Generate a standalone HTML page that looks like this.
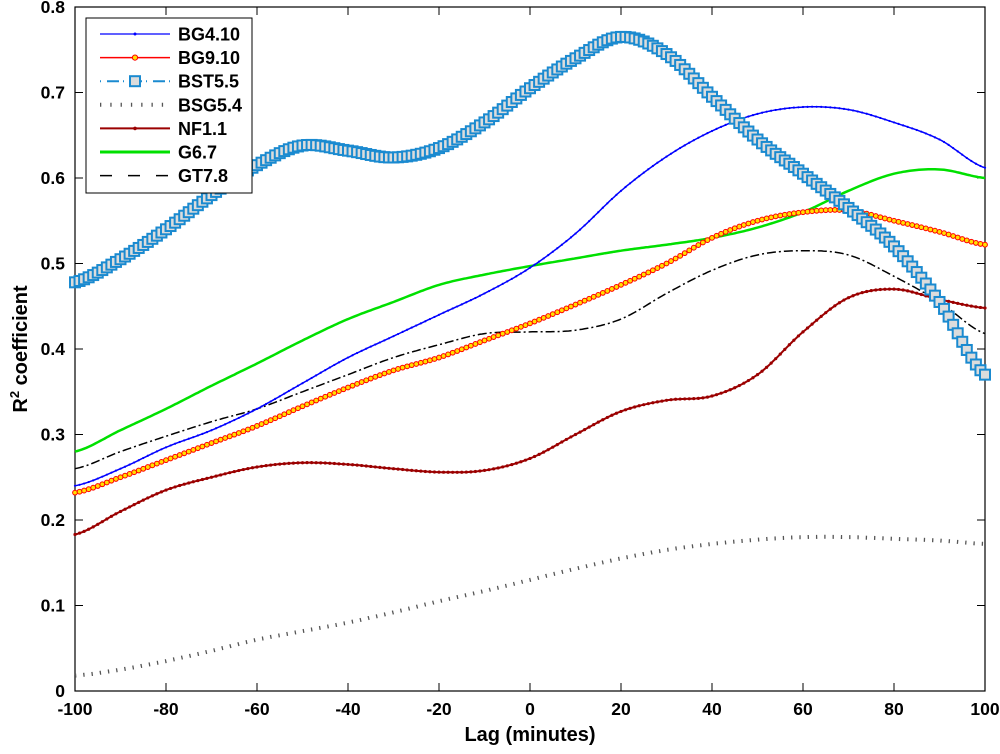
<!DOCTYPE html>
<html><head><meta charset="utf-8"><style>
body{margin:0;background:#fff}
svg text{font-family:"Liberation Sans",sans-serif;font-weight:bold;fill:#000}
</style></head><body>
<svg id="chart" width="1000" height="749" xmlns="http://www.w3.org/2000/svg"></svg>
<script>
const lags=[-100,-90,-80,-70,-60,-50,-40,-30,-20,-10,0,10,20,30,40,50,60,70,80,90,100];
const bg410=[0.24,0.26,0.285,0.305,0.33,0.36,0.39,0.415,0.44,0.465,0.495,0.535,0.585,0.625,0.655,0.675,0.683,0.68,0.665,0.645,0.612];
const bg910=[0.232,0.25,0.27,0.29,0.31,0.333,0.355,0.375,0.39,0.41,0.43,0.452,0.475,0.5,0.53,0.55,0.56,0.562,0.55,0.537,0.522];
const bst55=[0.478,0.505,0.54,0.58,0.615,0.638,0.632,0.624,0.635,0.665,0.705,0.74,0.765,0.745,0.695,0.645,0.605,0.565,0.52,0.455,0.37];
const bsg54=[0.018,0.025,0.035,0.047,0.06,0.07,0.08,0.092,0.105,0.117,0.13,0.143,0.155,0.165,0.172,0.177,0.18,0.18,0.178,0.176,0.172];
const nf11=[0.183,0.21,0.235,0.25,0.262,0.267,0.265,0.26,0.256,0.258,0.272,0.3,0.327,0.34,0.345,0.37,0.42,0.46,0.47,0.458,0.448];
const g67=[0.28,0.305,0.33,0.357,0.383,0.41,0.435,0.455,0.475,0.487,0.497,0.506,0.515,0.522,0.53,0.542,0.56,0.585,0.605,0.61,0.6];
const gt78=[0.26,0.28,0.298,0.315,0.33,0.35,0.37,0.39,0.405,0.418,0.42,0.422,0.435,0.465,0.492,0.51,0.515,0.51,0.485,0.455,0.418];
const xTicks=[-100,-80,-60,-40,-20,0,20,40,60,80,100];
const yTicks=[0,0.1,0.2,0.3,0.4,0.5,0.6,0.7,0.8];

const L=75,R=985,T=7,B=691;
const X=v=>L+(v+100)/200*(R-L);
const Y=v=>B-v/0.8*(B-T);
const NS="http://www.w3.org/2000/svg";
const svg=document.getElementById('chart');
function mk(tag,attrs,parent){const e=document.createElementNS(NS,tag);for(const k in attrs)e.setAttribute(k,attrs[k]);(parent||svg).appendChild(e);return e;}
function interp(vals,x){
  const t=(x-lags[0])/(lags[1]-lags[0]);let i=Math.min(Math.floor(t),lags.length-2);const u=t-i;
  const p0=vals[Math.max(i-1,0)],p1=vals[i],p2=vals[i+1],p3=vals[Math.min(i+2,vals.length-1)];
  return 0.5*((2*p1)+(-p0+p2)*u+(2*p0-5*p1+4*p2-p3)*u*u+(-p0+3*p1-3*p2+p3)*u*u*u);
}
function pathFor(vals){let d='';for(let x=-100;x<=100.001;x+=0.5){d+=(d?'L':'M')+X(x).toFixed(1)+','+Y(interp(vals,x)).toFixed(1);}return d;}

const ax=mk('rect',{x:L,y:T,width:R-L,height:B-T,fill:'none',stroke:'#000','stroke-width':1.2});


xTicks.forEach(v=>{
  mk('line',{x1:X(v),x2:X(v),y1:B,y2:B-8,stroke:'#000'});
  mk('line',{x1:X(v),x2:X(v),y1:T,y2:T+8,stroke:'#000'});
  const t=mk('text',{x:X(v),y:B+24,'text-anchor':'middle','font-size':17.5});t.textContent=v;
  
  
});
yTicks.forEach(v=>{
  mk('line',{x1:L,x2:L+8,y1:Y(v),y2:Y(v),stroke:'#000'});
  mk('line',{x1:R,x2:R-8,y1:Y(v),y2:Y(v),stroke:'#000'});
  const t=mk('text',{x:L-10,y:Y(v)+6,'text-anchor':'end','font-size':17.5});t.textContent=v===0?'0':v.toFixed(1);
  
  
});
const xt=mk('text',{x:530,y:741,'text-anchor':'middle','font-size':20});xt.textContent='Lag (minutes)';


const yt=mk('text',{x:0,y:0,'text-anchor':'middle','font-size':20,transform:'translate(27,349) rotate(-90)'});
yt.innerHTML='R<tspan dy="-8" font-size="13">2</tspan><tspan dy="8"> coefficient</tspan>';



function series(name,vals,style,marker){
  const g=mk('g',{});
  
  
  mk('path',Object.assign({d:pathFor(vals),fill:'none'},style),g);
  if(marker){for(let x=-100;x<=100;x+=1){marker(g,X(x),Y(interp(vals,x)));}}
}
series('series-bsg5-4',bsg54,{stroke:'#555','stroke-width':4,'stroke-dasharray':'1.3 7'});
series('series-gt7-8',gt78,{stroke:'#000','stroke-width':1.5,'stroke-dasharray':'9 3 2 3'});
series('series-g6-7',g67,{stroke:'#00e000','stroke-width':2.5});
series('series-nf1-1',nf11,{stroke:'#9b0000','stroke-width':2},(g,x,y)=>mk('circle',{cx:x,cy:y,r:1.6,fill:'#9b0000'},g));
series('series-bg9-10',bg910,{stroke:'#ff0000','stroke-width':1.5},(g,x,y)=>mk('circle',{cx:x,cy:y,r:2.4,fill:'#ffe000',stroke:'#ff0000','stroke-width':1},g));
series('series-bg4-10',bg410,{stroke:'#0000ff','stroke-width':1.5},(g,x,y)=>mk('circle',{cx:x,cy:y,r:1.1,fill:'#0000ff'},g));
series('series-bst5-5',bst55,{stroke:'#1a8ad0','stroke-width':1.5},(g,x,y)=>mk('rect',{x:x-5,y:y-5,width:10,height:10,fill:'#dcdcdc',stroke:'#1a8ad0','stroke-width':2},g));

const lg=mk('g',{});


mk('rect',{x:86,y:18,width:166,height:175,fill:'#fff',stroke:'#000','stroke-width':1},lg);
const items=[
 ['BG4.10',{stroke:'#0000ff','stroke-width':1.3},'dot'],
 ['BG9.10',{stroke:'#ff0000','stroke-width':1.5},'circ'],
 ['BST5.5',{stroke:'#1a8ad0','stroke-width':2,'stroke-dasharray':'1 6 12 4'},'sq'],
 ['BSG5.4',{stroke:'#555','stroke-width':4,'stroke-dasharray':'1.3 9'},null],
 ['NF1.1',{stroke:'#9b0000','stroke-width':2},'dr'],
 ['G6.7',{stroke:'#00e000','stroke-width':3},null],
 ['GT7.8',{stroke:'#000','stroke-width':1.5,'stroke-dasharray':'12 16'},null]];
items.forEach((it,i)=>{
  const y=34+i*23.6;
  const e=mk('g',{},lg);
  
  
  mk('line',Object.assign({x1:100,x2:170,y1:y,y2:y},it[1]),e);
  if(it[2]==='dot')mk('circle',{cx:135,cy:y,r:1.5,fill:'#0000ff'},e);
  if(it[2]==='circ')mk('circle',{cx:135,cy:y,r:2.6,fill:'#ffe000',stroke:'#ff0000'},e);
  if(it[2]==='sq')mk('rect',{x:130,y:y-5,width:10,height:10,fill:'#dcdcdc',stroke:'#1a8ad0','stroke-width':2},e);
  if(it[2]==='dr')mk('circle',{cx:135,cy:y,r:1.8,fill:'#9b0000'},e);
  const t=mk('text',{x:178,y:y+6.5,'font-size':18},e);t.textContent=it[0];
});
</script>
</body></html>
